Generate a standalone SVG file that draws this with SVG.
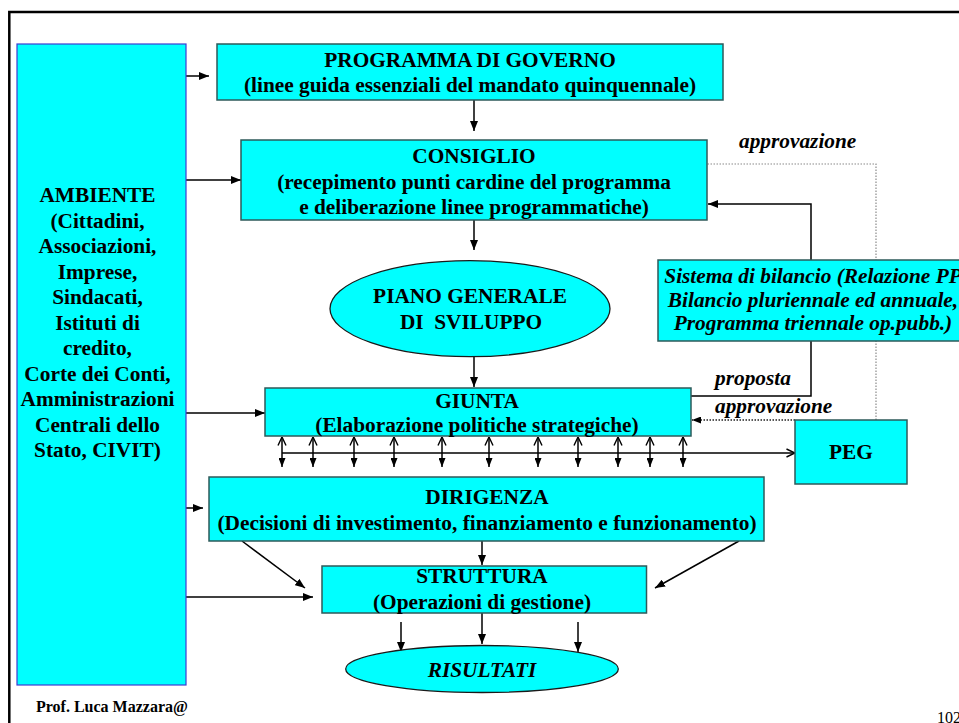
<svg xmlns="http://www.w3.org/2000/svg" width="959" height="723" viewBox="0 0 959 723">
  <defs>
    <style>
      .box { fill: #00ffff; stroke: #2e5a5a; stroke-width: 1.5; }
      .amb { fill: #00ffff; stroke: #3c3cd2; stroke-width: 1.2; }
      .ell { fill: #00ffff; stroke: #1a1a1a; stroke-width: 1.3; }
      .t { font-family: "Liberation Serif", "Times New Roman", serif; font-size: 21.33px; font-weight: bold; fill: #000; text-anchor: middle; }
      .ti { font-family: "Liberation Serif", "Times New Roman", serif; font-size: 21.33px; font-weight: bold; font-style: italic; fill: #000; }
      .c { fill: none; stroke: #000; stroke-width: 1.5; }
      .dot { fill: none; stroke: #8a8a8a; stroke-width: 1.2; stroke-dasharray: 1.5 1.5; }
      .dotk { fill: none; stroke: #222; stroke-width: 1.3; stroke-dasharray: 1.5 1.5; }
    </style>
    <marker id="ah" viewBox="0 0 10 8" refX="10" refY="4" markerWidth="10" markerHeight="8" orient="auto" markerUnits="userSpaceOnUse">
      <path d="M0,0 L10,4 L0,8 z" fill="#000"/>
    </marker>
    <marker id="ahs" viewBox="0 0 9 7" refX="9" refY="3.5" markerWidth="9" markerHeight="7" orient="auto" markerUnits="userSpaceOnUse">
      <path d="M0,0 L9,3.5 L0,7 z" fill="#000"/>
    </marker>
    <marker id="oh" viewBox="0 0 10 10" refX="9.5" refY="5" markerWidth="10" markerHeight="10" orient="auto-start-reverse" markerUnits="userSpaceOnUse">
      <path d="M1,1 L9.5,5 L1,9" fill="none" stroke="#000" stroke-width="1.4"/>
    </marker>
  </defs>

  <!-- slide frame (extends past the right and bottom edges) -->
  <rect x="9.3" y="12" width="1000" height="800" fill="none" stroke="#000" stroke-width="2.5"/>

  <g id="connectors">
    <!-- AMBIENTE outputs -->
    <line class="c" x1="186" y1="76" x2="209" y2="76" marker-end="url(#ah)"/>
    <line class="c" x1="186" y1="180" x2="241" y2="180" marker-end="url(#ah)"/>
    <line class="c" x1="186" y1="413" x2="265" y2="413" marker-end="url(#ah)"/>
    <line class="c" x1="186" y1="508" x2="203" y2="508" marker-end="url(#ah)"/>
    <line class="c" x1="186" y1="597" x2="313" y2="597" marker-end="url(#ah)"/>

    <!-- main vertical flow -->
    <line class="c" x1="474" y1="100" x2="474" y2="131" marker-end="url(#ah)"/>
    <line class="c" x1="474" y1="220" x2="474" y2="250" marker-end="url(#ah)"/>
    <line class="c" x1="474" y1="357" x2="474" y2="387" marker-end="url(#ah)"/>

    <!-- approvazione: PEG / bilancio up to CONSIGLIO -->
    <polyline class="dot" points="876,420 876,164 707,164"/>
    <!-- Sistema di bilancio -> CONSIGLIO -->
    <polyline class="c" points="811,260 811,204 708,204" marker-end="url(#ah)"/>
    <!-- proposta: GIUNTA -> Sistema di bilancio -->
    <polyline class="c" points="691,396 811,396 811,341"/>
    <!-- approvazione: PEG -> GIUNTA -->
    <line class="dotk" x1="795" y1="420" x2="692" y2="420" marker-end="url(#ahs)"/>

    <!-- GIUNTA <-> bus -> PEG -->
    <line class="c" x1="282" y1="453" x2="795" y2="453" marker-end="url(#oh)"/>
    <g class="c">
      <line x1="282" y1="437" x2="282" y2="467" marker-start="url(#oh)" marker-end="url(#ahs)"/>
      <line x1="313" y1="437" x2="313" y2="467" marker-start="url(#oh)" marker-end="url(#ahs)"/>
      <line x1="354" y1="437" x2="354" y2="467" marker-start="url(#oh)" marker-end="url(#ahs)"/>
      <line x1="394" y1="437" x2="394" y2="467" marker-start="url(#oh)" marker-end="url(#ahs)"/>
      <line x1="442" y1="437" x2="442" y2="467" marker-start="url(#oh)" marker-end="url(#ahs)"/>
      <line x1="489" y1="437" x2="489" y2="467" marker-start="url(#oh)" marker-end="url(#ahs)"/>
      <line x1="538" y1="437" x2="538" y2="467" marker-start="url(#oh)" marker-end="url(#ahs)"/>
      <line x1="578" y1="437" x2="578" y2="467" marker-start="url(#oh)" marker-end="url(#ahs)"/>
      <line x1="618" y1="437" x2="618" y2="467" marker-start="url(#oh)" marker-end="url(#ahs)"/>
      <line x1="650" y1="437" x2="650" y2="467" marker-start="url(#oh)" marker-end="url(#ahs)"/>
      <line x1="683" y1="437" x2="683" y2="467" marker-start="url(#oh)" marker-end="url(#ahs)"/>
    </g>

    <!-- DIRIGENZA -> STRUTTURA -->
    <line class="c" x1="482" y1="541" x2="482" y2="565" marker-end="url(#ah)"/>
    <line class="c" x1="242" y1="541" x2="305" y2="588" marker-end="url(#ah)"/>
    <line class="c" x1="739" y1="541" x2="655" y2="588" marker-end="url(#ah)"/>

    <!-- STRUTTURA -> RISULTATI -->
    <line class="c" x1="401" y1="622" x2="401" y2="652" marker-end="url(#ah)"/>
    <line class="c" x1="482" y1="613" x2="482" y2="644" marker-end="url(#ah)"/>
    <line class="c" x1="578" y1="622" x2="578" y2="652" marker-end="url(#ah)"/>
  </g>

  <g id="ambiente">
    <rect class="amb" x="17" y="44" width="169" height="641"/>
    <text class="t" x="97.5" y="202">AMBIENTE</text>
    <text class="t" x="97.5" y="227.5">(Cittadini,</text>
    <text class="t" x="97.5" y="253">Associazioni,</text>
    <text class="t" x="97.5" y="278.5">Imprese,</text>
    <text class="t" x="97.5" y="304">Sindacati,</text>
    <text class="t" x="97.5" y="329.5">Istituti di</text>
    <text class="t" x="97.5" y="355">credito,</text>
    <text class="t" x="97.5" y="380.5">Corte dei Conti,</text>
    <text class="t" x="97.5" y="406">Amministrazioni</text>
    <text class="t" x="97.5" y="431.5">Centrali dello</text>
    <text class="t" x="97.5" y="457">Stato, CIVIT)</text>
  </g>

  <g id="programma">
    <rect class="box" x="217" y="44" width="506" height="56"/>
    <text class="t" x="470" y="66.5">PROGRAMMA DI GOVERNO</text>
    <text class="t" x="470" y="92">(linee guida essenziali del mandato quinquennale)</text>
  </g>

  <g id="consiglio">
    <rect class="box" x="241" y="140" width="466" height="80"/>
    <text class="t" x="474" y="163">CONSIGLIO</text>
    <text class="t" x="474" y="188.5">(recepimento punti cardine del programma</text>
    <text class="t" x="474" y="214">e deliberazione linee programmatiche)</text>
  </g>

  <g id="piano">
    <ellipse class="ell" cx="470" cy="308.7" rx="140" ry="48"/>
    <text class="t" x="470" y="303.3">PIANO GENERALE</text>
    <text class="t" x="471" y="329.3" style="white-space:pre">DI  SVILUPPO</text>
  </g>

  <g id="bilancio">
    <rect class="box" x="658" y="260" width="310" height="81"/>
    <text class="ti" x="813" y="283.3" text-anchor="middle">Sistema di bilancio (Relazione PP</text>
    <text class="ti" x="813" y="306.7" text-anchor="middle">Bilancio pluriennale ed annuale,</text>
    <text class="ti" x="813" y="330" text-anchor="middle">Programma triennale op.pubb.)</text>
  </g>

  <g id="labels">
    <text class="ti" x="739" y="148">approvazione</text>
    <text class="ti" x="715" y="385">proposta</text>
    <text class="ti" x="715" y="412.5">approvazione</text>
  </g>

  <g id="giunta">
    <rect class="box" x="265" y="388" width="426" height="48"/>
    <text class="t" x="477" y="408">GIUNTA</text>
    <text class="t" x="477" y="431.7">(Elaborazione politiche strategiche)</text>
  </g>

  <g id="peg">
    <rect class="box" x="795" y="420" width="112" height="64"/>
    <text class="t" x="851" y="459.3">PEG</text>
  </g>

  <g id="dirigenza">
    <rect class="box" x="209" y="477" width="555" height="64"/>
    <text class="t" x="487" y="504">DIRIGENZA</text>
    <text class="t" x="487" y="529.5">(Decisioni di investimento, finanziamento e funzionamento)</text>
  </g>

  <g id="struttura">
    <rect class="box" x="322" y="566" width="324.5" height="47"/>
    <text class="t" x="482" y="583.3">STRUTTURA</text>
    <text class="t" x="482" y="608.5">(Operazioni di gestione)</text>
  </g>

  <g id="risultati">
    <ellipse class="ell" cx="482" cy="669" rx="136.3" ry="23.5"/>
    <text class="ti" x="482" y="676.7" text-anchor="middle">RISULTATI</text>
  </g>

  <!-- footer -->
  <text x="36" y="712" font-family="'Liberation Serif', 'Times New Roman', serif" font-size="16" font-weight="bold" fill="#000">Prof. Luca Mazzara@</text>
  <text x="937" y="723" font-family="'Liberation Serif', 'Times New Roman', serif" font-size="16" fill="#000">102</text>
</svg>
